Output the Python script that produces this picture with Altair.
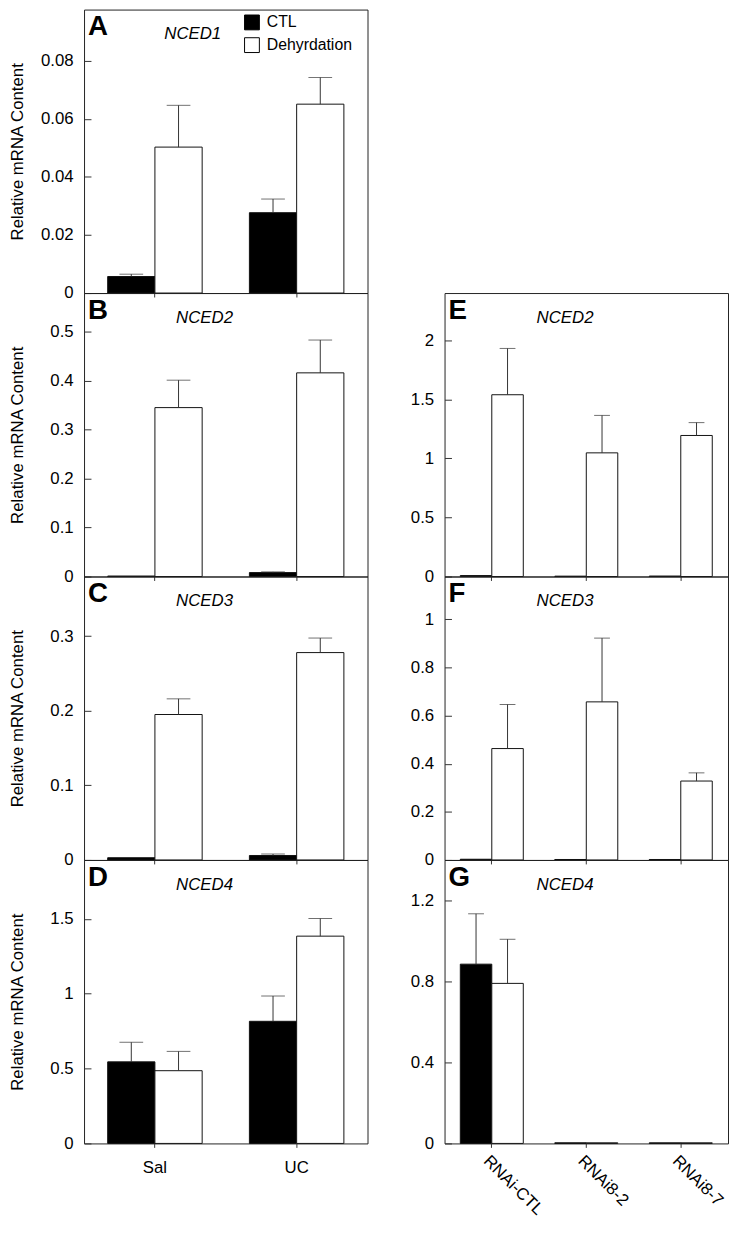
import altair as alt
import pandas as pd

FONT = "Liberation Sans"
W = 287
H = 287

series = ["CTL", "Dehyrdation"]
tissues = ["Sal", "UC"]
lines = ["RNAi-CTL", "RNAi8-2", "RNAi8-7"]

# Panel A: NCED1 (tissues)
a_ctl = [0.0057, 0.0277]
a_ctl_up = [0.0065, 0.0324]
a_dehy = [0.0503, 0.0651]
a_dehy_up = [0.0647, 0.0743]
a_ticks = [0, 0.02, 0.04, 0.06, 0.08]

# Panel B: NCED2 (tissues)
b_ctl = [0.001, 0.008]
b_ctl_up = [0.001, 0.0095]
b_dehy = [0.345, 0.416]
b_dehy_up = [0.401, 0.483]
b_ticks = [0, 0.1, 0.2, 0.3, 0.4, 0.5]

# Panel C: NCED3 (tissues)
c_ctl = [0.003, 0.006]
c_ctl_up = [0.003, 0.008]
c_dehy = [0.195, 0.278]
c_dehy_up = [0.216, 0.2975]
c_ticks = [0, 0.1, 0.2, 0.3]

# Panel D: NCED4 (tissues)
d_ctl = [0.545, 0.816]
d_ctl_up = [0.676, 0.985]
d_dehy = [0.486, 1.385]
d_dehy_up = [0.615, 1.503]
d_ticks = [0, 0.5, 1, 1.5]

# Panel E: NCED2 (RNAi lines)
e_ctl = [0.008, 0.003, 0.004]
e_ctl_up = [0.008, 0.003, 0.004]
e_dehy = [1.539, 1.047, 1.194]
e_dehy_up = [1.931, 1.364, 1.303]
e_ticks = [0, 0.5, 1, 1.5, 2]

# Panel F: NCED3 (RNAi lines)
f_ctl = [0.003, 0.002, 0.002]
f_ctl_up = [0.003, 0.002, 0.002]
f_dehy = [0.463, 0.657, 0.328]
f_dehy_up = [0.646, 0.922, 0.362]
f_ticks = [0, 0.2, 0.4, 0.6, 0.8, 1]

# Panel G: NCED4 (RNAi lines)
g_ctl = [0.886, 0.003, 0.003]
g_ctl_up = [1.135, 0.003, 0.003]
g_dehy = [0.791, 0.003, 0.003]
g_dehy_up = [1.009, 0.003, 0.003]
g_ticks = [0, 0.4, 0.8, 1.2]


def make_panel(groups, ctl, ctl_up, dehy, dehy_up, ymax, yticks, letter, gene,
               gene_x, show_labels, ytitle, rotate=False, legend=False):
    rows = []
    for g, c, cu, d, du in zip(groups, ctl, ctl_up, dehy, dehy_up):
        rows.append({"group": g, "series": series[0], "value": c, "upper": cu})
        rows.append({"group": g, "series": series[1], "value": d, "upper": du})
    df = pd.DataFrame(rows)

    xaxis_kw = dict(title=None, domain=False, tickSize=4, tickColor="#333",
                    labels=show_labels, labelFont=FONT, labelColor="#000")
    if rotate:
        xaxis_kw.update(labelAngle=45, labelAlign="left", labelBaseline="top",
                        labelPadding=5, labelFontSize=17)
    else:
        xaxis_kw.update(labelAngle=0, labelPadding=12, labelFontSize=17)
    x = alt.X("group:N", sort=groups,
              scale=alt.Scale(paddingInner=0, paddingOuter=0),
              axis=alt.Axis(**xaxis_kw))
    xo = alt.XOffset("series:N", sort=series,
                     scale=alt.Scale(paddingInner=0, paddingOuter=0.5))

    yaxis_kw = dict(values=yticks, format=".3~g", offset=-7, tickSize=7,
                    tickColor="#333", domain=False, grid=False, labelPadding=11,
                    labelFontSize=17, labelFont=FONT, labelColor="#000",
                    labelOverlap=False)
    if ytitle:
        yaxis_kw.update(title="Relative mRNA Content", titleFont=FONT,
                        titleFontSize=17, titleFontWeight="normal",
                        titleColor="#000", titleX=-65, titleY=H / 2,
                        titleAngle=-90, titleAlign="center",
                        titleBaseline="bottom")
    else:
        yaxis_kw.update(title=None)
    yscale = alt.Scale(domain=[0, ymax], nice=False, zero=True)

    def Y(field):
        return alt.Y(f"{field}:Q", scale=yscale, axis=alt.Axis(**yaxis_kw))

    if legend:
        leg = alt.Legend(orient="none", legendX=162, legendY=5, title=None,
                         symbolType="square", symbolSize=225,
                         symbolStrokeColor="#000", symbolStrokeWidth=1,
                         labelFont=FONT, labelFontSize=16, labelColor="#000",
                         labelOffset=7, rowPadding=3, padding=0)
    else:
        leg = None
    fill = alt.Fill("series:N", sort=series,
                    scale=alt.Scale(domain=series, range=["#000000", "#ffffff"]),
                    legend=leg)

    capsize = 24 if len(groups) == 2 else 16

    base = alt.Chart(df)
    bars = base.mark_bar(stroke="#111", strokeWidth=1).encode(
        x=x, xOffset=xo, y=Y("value"), fill=fill)
    errs = base.transform_filter("datum.upper > datum.value")
    rule = errs.mark_rule(color="#333", strokeWidth=1).encode(
        x=x, xOffset=xo, y=Y("value"), y2="upper:Q")
    cap = errs.mark_tick(color="#333", thickness=1, size=capsize,
                         orient="horizontal").encode(
        x=x, xOffset=xo, y=Y("upper"))

    letter_t = alt.Chart(pd.DataFrame({"t": [letter]})).mark_text(
        font=FONT, fontSize=28, fontWeight="bold", align="left",
        baseline="alphabetic", color="#000").encode(
        x=alt.value(4), y=alt.value(26), text="t:N")
    gene_t = alt.Chart(pd.DataFrame({"t": [gene]})).mark_text(
        font=FONT, fontSize=17, fontStyle="italic", align="center",
        baseline="alphabetic", color="#000").encode(
        x=alt.value(gene_x), y=alt.value(30), text="t:N")

    return alt.layer(bars, rule, cap, letter_t, gene_t).properties(
        width=W, height=H)


pA = make_panel(tissues, a_ctl, a_ctl_up, a_dehy, a_dehy_up, 0.0977, a_ticks,
                "A", "NCED1", 110, False, True, legend=True)
pB = make_panel(tissues, b_ctl, b_ctl_up, b_dehy, b_dehy_up, 0.579, b_ticks,
                "B", "NCED2", 122, False, True)
pC = make_panel(tissues, c_ctl, c_ctl_up, c_dehy, c_dehy_up, 0.38, c_ticks,
                "C", "NCED3", 122, False, True)
pD = make_panel(tissues, d_ctl, d_ctl_up, d_dehy, d_dehy_up, 1.894, d_ticks,
                "D", "NCED4", 122, True, True)

pE = make_panel(lines, e_ctl, e_ctl_up, e_dehy, e_dehy_up, 2.40, e_ticks,
                "E", "NCED2", 122, False, False)
pF = make_panel(lines, f_ctl, f_ctl_up, f_dehy, f_dehy_up, 1.178, f_ticks,
                "F", "NCED3", 122, False, False)
pG = make_panel(lines, g_ctl, g_ctl_up, g_dehy, g_dehy_up, 1.401, g_ticks,
                "G", "NCED4", 122, True, False, rotate=True)

spacer = alt.Chart(pd.DataFrame({"a": [0]})).mark_text(fontSize=1).encode(
    x=alt.value(100), y=alt.value(100), text=alt.value("")).properties(
    width=W, height=H, view=alt.ViewBackground(stroke="transparent"))

left = alt.vconcat(pA, pB, pC, pD, spacing=0, bounds="flush").resolve_scale(
    fill="independent", xOffset="independent")
right = alt.vconcat(spacer, pE, pF, pG, spacing=0, bounds="flush").resolve_scale(
    fill="independent", xOffset="independent")

chart = alt.hconcat(left, right, spacing=41).resolve_scale(
    fill="independent", xOffset="independent").properties(
    padding={"left": 0, "top": -7, "right": 0, "bottom": 0}
).configure_view(stroke="#222", strokeWidth=1)

chart.save("out.html", embed_options={"renderer": "svg", "actions": False})
